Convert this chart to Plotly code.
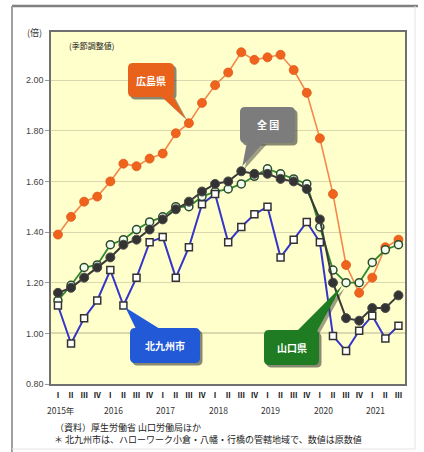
import plotly.graph_objects as go

# ---------------- data ----------------
quarters = ["Ⅰ", "Ⅱ", "Ⅲ", "Ⅳ"] * 6 + ["Ⅰ", "Ⅱ", "Ⅲ"]
years = ["2015年", "2016", "2017", "2018", "2019", "2020", "2021"]

hiroshima = [1.39, 1.46, 1.52, 1.54, 1.60, 1.67, 1.66, 1.69, 1.71, 1.79, 1.83, 1.91, 1.98, 2.03,
             2.11, 2.08, 2.09, 2.10, 2.04, 1.95, 1.77, 1.55, 1.27, 1.16, 1.22, 1.34, 1.37]
zenkoku = [1.16, 1.18, 1.22, 1.26, 1.30, 1.35, 1.37, 1.41, 1.45, 1.49, 1.52, 1.56, 1.59, 1.60,
           1.64, 1.63, 1.63, 1.61, 1.60, 1.57, 1.45, 1.20, 1.06, 1.05, 1.10, 1.10, 1.15]
yamaguchi = [1.13, 1.19, 1.26, 1.27, 1.35, 1.37, 1.41, 1.44, 1.46, 1.50, 1.50, 1.54, 1.56, 1.57,
             1.59, 1.62, 1.65, 1.63, 1.61, 1.59, 1.42, 1.25, 1.20, 1.20, 1.28, 1.33, 1.35]
kitakyushu = [1.11, 0.96, 1.06, 1.13, 1.25, 1.11, 1.22, 1.36, 1.38, 1.22, 1.34, 1.51, 1.55, 1.36,
              1.42, 1.47, 1.50, 1.30, 1.37, 1.44, 1.36, 0.99, 0.93, 1.01, 1.07, 0.98, 1.03]

y_ticks = [0.8, 1.0, 1.2, 1.4, 1.6, 1.8, 2.0]

# ---------------- geometry helpers ----------------
W, H = 424, 452
L, R, T, B = 51, 405, 32, 384
XMIN, XMAX = -0.53, 26.5
YMIN, YMAX = 0.8, 2.19

def px(x):
    return (x - L) / (R - L)

def py(y):
    return (B - y) / (B - T)

def dx(i):
    return L + (i - XMIN) / (XMAX - XMIN) * (R - L)

def dy(v):
    return B - (v - YMIN) / (YMAX - YMIN) * (B - T)

idx = list(range(len(quarters)))
CJK = "Noto Sans CJK JP"
SANS = "Liberation Sans"

fig = go.Figure()

fig.add_trace(go.Scatter(x=idx, y=hiroshima, mode="lines+markers",
                         line=dict(color="#F4884A", width=1.6),
                         marker=dict(color="#F0631C", size=9, line=dict(color="#E0581A", width=0.8))))
fig.add_trace(go.Scatter(x=idx, y=yamaguchi, mode="lines+markers",
                         line=dict(color="#2E8A2E", width=1.8),
                         marker=dict(color="#F2FFF0", size=8, line=dict(color="#2B4A2B", width=1.5))))
fig.add_trace(go.Scatter(x=idx, y=zenkoku, mode="lines+markers",
                         line=dict(color="#3A3A3A", width=2),
                         marker=dict(color="#333333", size=9, line=dict(color="#4A4A4A", width=1))))
fig.add_trace(go.Scatter(x=idx, y=kitakyushu, mode="lines+markers",
                         line=dict(color="#3535C8", width=2),
                         marker=dict(symbol="square", color="#FFFFFF", size=7,
                                     line=dict(color="#333333", width=1.5))))

shapes = []
annotations = []

# outer frame
shapes.append(dict(type="line", xref="paper", yref="paper", x0=px(12), x1=px(418), y0=py(6), y1=py(6),
                   line=dict(color="#808080", width=2.5), layer="below"))
shapes.append(dict(type="line", xref="paper", yref="paper", x0=px(12), x1=px(12), y0=py(6), y1=py(452),
                   line=dict(color="#A0A0A0", width=2), layer="below"))
shapes.append(dict(type="line", xref="paper", yref="paper", x0=px(415), x1=px(415), y0=py(6), y1=py(449),
                   line=dict(color="#E4E4E4", width=1), layer="below"))
shapes.append(dict(type="line", xref="paper", yref="paper", x0=px(12), x1=px(415), y0=py(449), y1=py(449),
                   line=dict(color="#E4E4E4", width=1), layer="below"))

# darker 1.00 line
shapes.append(dict(type="line", xref="paper", yref="y", x0=0, x1=1, y0=1.0, y1=1.0,
                   line=dict(color="#6E6E50", width=1.3), layer="below"))


def rrect_path(x0, y0, x1, y1, r):
    X0, X1 = px(x0), px(x1)
    Y0, Y1 = py(y0), py(y1)
    rx = r / (R - L)
    ry = r / (B - T)
    return (f"M {X0+rx},{Y0} L {X1-rx},{Y0} Q {X1},{Y0} {X1},{Y0-ry} "
            f"L {X1},{Y1+ry} Q {X1},{Y1} {X1-rx},{Y1} L {X0+rx},{Y1} "
            f"Q {X0},{Y1} {X0},{Y1+ry} L {X0},{Y0-ry} Q {X0},{Y0} {X0+rx},{Y0} Z")


def tri_path(pts):
    s = "M " + " L ".join(f"{px(a)},{py(b)}" for a, b in pts) + " Z"
    return s


def callout(box, base, tip, color, text, tcolor="white"):
    x0, y0, x1, y1 = box
    sh = 2.5
    shapes.append(dict(type="path", xref="paper", yref="paper",
                       path=rrect_path(x0 + sh, y0 + sh, x1 + sh, y1 + sh, 5),
                       fillcolor="rgba(40,40,40,0.55)", line=dict(width=0), layer="above"))
    shapes.append(dict(type="path", xref="paper", yref="paper",
                       path=tri_path([(base[0][0] + sh, base[0][1] + sh), (base[1][0] + sh, base[1][1] + sh),
                                      (tip[0] + sh, tip[1] + sh)]),
                       fillcolor="rgba(40,40,40,0.45)", line=dict(width=0), layer="above"))
    shapes.append(dict(type="path", xref="paper", yref="paper", path=rrect_path(x0, y0, x1, y1, 5),
                       fillcolor=color, line=dict(width=0), layer="above"))
    shapes.append(dict(type="path", xref="paper", yref="paper",
                       path=tri_path([base[0], base[1], tip]),
                       fillcolor=color, line=dict(width=0), layer="above"))
    annotations.append(dict(xref="paper", yref="paper", x=px((x0 + x1) / 2), y=py((y0 + y1) / 2),
                            text=f"<b>{text}</b>", showarrow=False, xanchor="center", yanchor="middle",
                            font=dict(family=CJK, size=10, color=tcolor)))


# 広島県 -> points to 2017 Q3
tx, ty = dx(10) - 4, dy(hiroshima[10]) - 5
callout((128, 63, 174, 97), ((161, 96), (173, 96)), (tx, ty), "#E9621B", "広島県")
# 全国 -> points to 2018 Q3
tx, ty = dx(14) + 1, dy(zenkoku[14]) - 5
callout((240, 107, 295, 143), ((247, 142), (264, 142)), (tx, ty), "#7C7C7C", "全 国")
# 北九州市 -> points to 2016 Q2
tx, ty = dx(5) + 2, dy(kitakyushu[5]) + 2
callout((130, 328, 200, 363), ((136, 329), (160, 329)), (tx, ty), "#2259D6", "北九州市")
# 山口県 -> points to 2020 Q3
tx, ty = dx(22) - 4, dy(yamaguchi[22]) + 3
callout((264, 330, 319, 365), ((297, 331), (317, 331)), (tx, ty), "#1F7C22", "山口県")

# year labels
for k, yr in enumerate(years):
    annotations.append(dict(xref="x", yref="paper", x=k * 4 + 0.25, y=py(410), text=yr, showarrow=False,
                            xanchor="center", yanchor="middle",
                            font=dict(family=CJK, size=8.5, color="#333333")))

annotations.append(dict(xref="paper", yref="paper", x=px(34), y=py(33), text="(倍)", showarrow=False,
                        xanchor="center", yanchor="middle", font=dict(family=CJK, size=9, color="#333333")))
annotations.append(dict(xref="paper", yref="paper", x=px(91), y=py(45), text="(季節調整値)", showarrow=False,
                        xanchor="center", yanchor="middle", font=dict(family=CJK, size=8, color="#222222")))
annotations.append(dict(xref="paper", yref="paper", x=px(53), y=py(427), text="（資料）厚生労働省 山口労働局ほか",
                        showarrow=False, xanchor="left", yanchor="middle",
                        font=dict(family=CJK, size=9, color="#222222")))
annotations.append(dict(xref="paper", yref="paper", x=px(52), y=py(439.5),
                        text="＊ 北九州市は、ハローワーク小倉・八幡・行橋の管轄地域で、数値は原数値",
                        showarrow=False, xanchor="left", yanchor="middle",
                        font=dict(family=CJK, size=9, color="#222222")))

fig.update_layout(
    width=W, height=H, autosize=False,
    margin=dict(l=L, r=W - R, t=T, b=H - B, pad=0),
    paper_bgcolor="white", plot_bgcolor="#FFFFCC",
    showlegend=False,
    shapes=shapes, annotations=annotations,
    xaxis=dict(range=[XMIN, XMAX], tickmode="array", tickvals=idx,
               ticktext=[f"<b>{q}</b>" for q in quarters],
               tickfont=dict(family=CJK, size=7.5, color="#111111"), showgrid=False, zeroline=False,
               showline=True, linecolor="#707070", linewidth=1.5, mirror=True, ticks="outside",
               ticklen=3, tickcolor="rgba(0,0,0,0)"),
    yaxis=dict(range=[YMIN, YMAX], tickmode="array", tickvals=y_ticks,
               ticktext=[f"{v:.2f}" for v in y_ticks],
               tickfont=dict(family=SANS, size=9, color="#444444"), showgrid=True, gridcolor="#DAD6AE",
               gridwidth=1, zeroline=False, showline=True, linecolor="#707070", linewidth=1.5, mirror=True,
               ticks="outside", ticklen=4, tickcolor="#999999"),
)

fig.write_html("out.html", config={"displayModeBar": False},
               post_script="document.body.style.margin='0';document.body.style.padding='0';"
                           "document.documentElement.style.overflow='hidden';")
